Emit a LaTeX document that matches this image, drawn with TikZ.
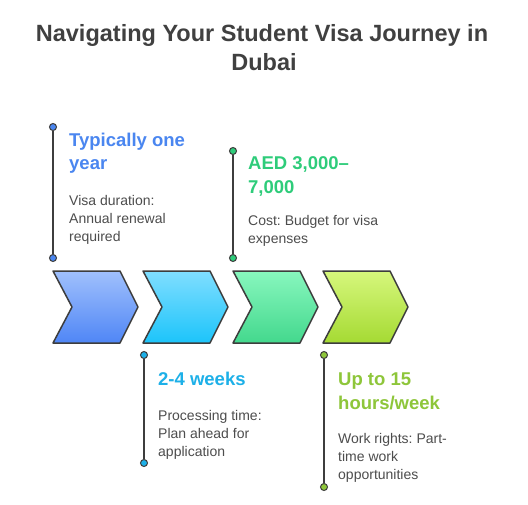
\documentclass[tikz,border=0pt]{standalone}
\usepackage{fontspec}
\setmainfont{Liberation Sans}
\frenchspacing
\usetikzlibrary{calc}
\definecolor{ink}{HTML}{404040}
\definecolor{desc}{HTML}{4D4D4D}
\definecolor{lineclr}{HTML}{3D3D3D}
\definecolor{cA}{HTML}{4A86F0}
\definecolor{cAt}{HTML}{A0C0FC}
\definecolor{cAb}{HTML}{4F86F6}
\definecolor{cB}{HTML}{1DB0E8}
\definecolor{cBt}{HTML}{80DEFF}
\definecolor{cBb}{HTML}{1CC4FA}
\definecolor{cC}{HTML}{2ECC7A}
\definecolor{cCt}{HTML}{88F7BE}
\definecolor{cCb}{HTML}{43D88D}
\definecolor{cD}{HTML}{8EC63A}
\definecolor{cDt}{HTML}{D6F77C}
\definecolor{cDb}{HTML}{A5DA33}
\tikzset{
  titletext/.style={font=\fontsize{23.5}{29}\selectfont\bfseries, text=ink, inner sep=0, anchor=base},
  headtext/.style={font=\fontsize{18.5}{24}\selectfont\bfseries, inner sep=0, anchor=base west},
  desctext/.style={font=\fontsize{14}{18}\selectfont, text=desc, inner sep=0, anchor=base west},
  chev/.style={draw=lineclr, line width=1.5pt, line join=round},
  dot/.style={circle, draw=lineclr, line width=1pt, minimum size=7pt, inner sep=0},
  stem/.style={draw=lineclr, line width=2pt},
}
\newcommand{\chevronat}[3]{%
  \path[chev, top color=#2, bottom color=#3]
    (#1,271) -- ++(67,0) -- ++(18,36) -- ++(-18,36) -- ++(-67,0) -- ++(19,-36) -- cycle;}
\begin{document}
\begin{tikzpicture}[x=1pt,y=-1pt]
\path[use as bounding box, fill=white] (0,0) rectangle (528,504);
% title
\node[titletext] (title1) at (262,41) {Navigating Your Student Visa Journey in};
\node[titletext] (title2) at (264,70) {Dubai};
% chevrons
\chevronat{53}{cAt}{cAb}
\chevronat{143}{cBt}{cBb}
\chevronat{233}{cCt}{cCb}
\chevronat{323}{cDt}{cDb}
% stems
\node[dot, fill=cA] (d1a) at (53,127) {};
\node[dot, fill=cA] (d1b) at (53,258) {};
\node[dot, fill=cC] (d3a) at (233,151) {};
\node[dot, fill=cC] (d3b) at (233,258) {};
\node[dot, fill=cB] (d2a) at (144,355) {};
\node[dot, fill=cB] (d2b) at (144,463) {};
\node[dot, fill=cD] (d4a) at (324,355) {};
\node[dot, fill=cD] (d4b) at (324,487) {};
\draw[stem] (d1a) -- (d1b);
\draw[stem] (d3a) -- (d3b);
\draw[stem] (d2a) -- (d2b);
\draw[stem] (d4a) -- (d4b);
% text 1
\node[headtext, text=cA] (h1a) at (69,146) {Typically one};
\node[headtext, text=cA] (h1b) at (69,169) {year};
\node[desctext] (p1a) at (69,205) {Visa duration:};
\node[desctext] (p1b) at (69,223) {Annual renewal};
\node[desctext] (p1c) at (69,241) {required};
% text 3
\node[headtext, text=cC] (h3a) at (248,169) {AED 3,000–};
\node[headtext, text=cC] (h3b) at (248,193) {7,000};
\node[desctext] (p3a) at (248,225) {Cost: Budget for visa};
\node[desctext] (p3b) at (248,243) {expenses};
% text 2
\node[headtext, text=cB] (h2a) at (158,385) {2-4 weeks};
\node[desctext] (p2a) at (158,420) {Processing time:};
\node[desctext] (p2b) at (158,438) {Plan ahead for};
\node[desctext] (p2c) at (158,456) {application};
% text 4
\node[headtext, text=cD] (h4a) at (338,385) {Up to 15};
\node[headtext, text=cD] (h4b) at (338,409) {hours/week};
\node[desctext] (p4a) at (338,443) {Work rights: Part-};
\node[desctext] (p4b) at (338,461) {time work};
\node[desctext] (p4c) at (338,479) {opportunities};
\end{tikzpicture}
\end{document}
